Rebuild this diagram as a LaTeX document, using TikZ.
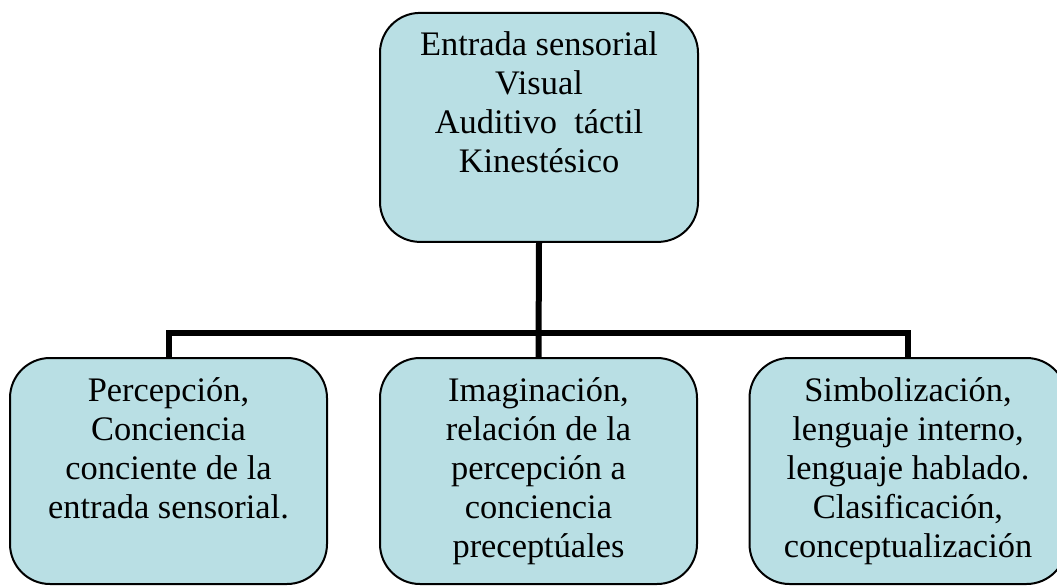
\documentclass[tikz,border=0pt]{standalone}
\usepackage{fontspec}
\setmainfont{Liberation Serif}
\definecolor{boxfill}{RGB}{185,223,228}
\begin{document}
\begin{tikzpicture}[x=0.75pt,y=-0.75pt,
  box/.style={draw=black,line width=1.5pt,fill=boxfill,rounded corners=30pt,
    rectangle,inner sep=0pt,minimum width=237.75pt,minimum height=169.5pt},
  txt/.style={anchor=north,align=center,inner sep=0pt,
    font=\fontsize{25.8pt}{29.2pt}\selectfont},
  conn/.style={draw=black,line width=4.5pt}]
\useasboundingbox (0,0) rectangle (1057,586);
\node[box,minimum width=238.5pt,minimum height=171.75pt] (top) at (539,127.4) {};
\node[box] (l) at (168.5,471) {};
\node[box] (m) at (538.5,471) {};
\node[box] (r) at (908,471) {};
\coordinate (bus) at (538.5,333);
\draw[conn] (top.south) -- (m.north);
\draw[conn] (l.north) |- (bus) -| (r.north);
\node[txt] (ttop) at ([yshift=-14.6pt]top.north) {Entrada sensorial\\Visual\\Auditivo\ \ táctil\\Kinestésico};
\node[txt] (tl) at ([yshift=-15.5pt]l.north) {Percepción,\\Conciencia\\conciente de la\\entrada sensorial.};
\node[txt] (tm) at ([yshift=-15.5pt]m.north) {Imaginación,\\relación de la\\percepción a\\conciencia\\preceptúales};
\node[txt] (tr) at ([yshift=-15.5pt]r.north) {Simbolización,\\lenguaje interno,\\lenguaje hablado.\\Clasificación,\\conceptualización};
\end{tikzpicture}
\end{document}
